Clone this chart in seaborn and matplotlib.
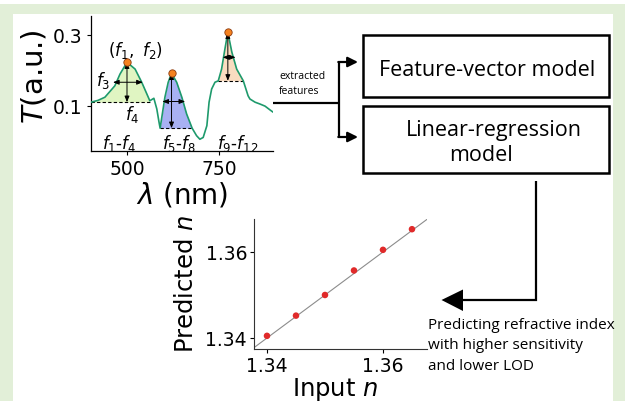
import numpy as np
import pandas as pd
import seaborn as sns
import matplotlib.pyplot as plt
from matplotlib.patches import Rectangle, Polygon

# transmission spectrum
wavelength = [402, 421, 440, 467, 481, 500, 522, 540, 554, 562, 573, 581, 587, 590, 596,
              603, 612, 621, 635, 649, 662, 677, 689, 698, 707, 717, 723, 730, 739, 748,
              757, 766, 774, 785, 798, 816, 829, 834, 848, 861, 875, 889, 897]
transmission = [0.110, 0.115, 0.124, 0.156, 0.189, 0.222, 0.203, 0.166, 0.133, 0.114, 0.121,
                0.091, 0.054, 0.037, 0.077, 0.124, 0.166, 0.191, 0.166, 0.124, 0.077, 0.037,
                0.016, 0.006, 0.011, 0.044, 0.110, 0.147, 0.166, 0.170, 0.203, 0.259, 0.306,
                0.250, 0.203, 0.170, 0.128, 0.119, 0.110, 0.105, 0.099, 0.088, 0.082]

# extracted features for the three peaks
peak_nm = [500, 621, 774]
peak_T = [0.222, 0.191, 0.306]
base_T = [0.110, 0.037, 0.170]
region_lo = [402, 590, 748]
region_hi = [562, 677, 816]
dash_hi = [567, 677, 816]
half_T = [0.166, 0.112, 0.236]
half_lo = [462, 596, 760]
half_hi = [543, 658, 795]
region_colors = ["#e0f5c2", "#a8b1f3", "#f9dcc0"]

# regression result
input_n = [1.340, 1.345, 1.350, 1.355, 1.360, 1.365]
predicted_n = [1.3405, 1.3452, 1.3500, 1.3557, 1.3605, 1.3653]

sns.set_style("white")
plt.rcParams["font.family"] = ["DejaVu Sans"]
plt.rcParams["mathtext.fontset"] = "dejavusans"
for key in ("text.color", "axes.labelcolor", "xtick.color", "ytick.color"):
    plt.rcParams[key] = "black"

W, H = 625, 402
fig = plt.figure(figsize=(6.25, 4.02), dpi=100, facecolor="#e2efd8")


def px_axes(x0, y0, x1, y1):
    return fig.add_axes([x0 / W, 1 - y1 / H, (x1 - x0) / W, (y1 - y0) / H])


# background + flow diagram, drawn in pixel coordinates
bg = px_axes(0, 0, W, H)
bg.set_xlim(0, W)
bg.set_ylim(H, 0)
bg.axis("off")
bg.add_patch(Rectangle((13, 15), 600, 400, color="white", lw=0))
bg.add_patch(Rectangle((0, 0), W, 4.5, color="white", lw=0))

lk = dict(color="k", lw=1.6, solid_capstyle="butt", solid_joinstyle="miter")
bg.plot([273, 339], [104, 104], **lk)
bg.plot([339, 339], [63, 138], **lk)
for yy in (63, 138):
    bg.annotate("", xy=(358, yy), xytext=(338.3, yy),
                arrowprops=dict(arrowstyle="-|>,head_length=0.6,head_width=0.3",
                                color="k", lw=1.6, shrinkA=0, shrinkB=0, mutation_scale=10))
bg.text(279, 79, "extracted", fontsize=7.5, family="Open Sans", va="baseline")
bg.text(279, 94, "features", fontsize=7.5, family="Open Sans", va="baseline")

bg.add_patch(Rectangle((363, 36), 246, 62, fill=False, lw=1.8, ec="k"))
bg.add_patch(Rectangle((363, 107), 246, 67, fill=False, lw=1.8, ec="k"))
bg.text(487, 75.5, "Feature-vector model", fontsize=15.5, family="Open Sans",
        ha="center", va="baseline")
bg.text(494, 136, "Linear-regression", fontsize=15.5, family="Open Sans",
        ha="center", va="baseline")
bg.text(481, 161.5, "model", fontsize=15.5, family="Open Sans", ha="center", va="baseline")

bg.plot([536, 536, 462], [182, 300.5, 300.5], **lk)
bg.add_patch(Polygon([(441.5, 301), (463, 290.5), (463, 312)], color="k", lw=0))
for i, s in enumerate(["Predicting refractive index", "with higher sensitivity",
                       "and lower LOD"]):
    bg.text(428, 329 + 20.5 * i, s, fontsize=11, family="Open Sans", va="baseline")

# spectrum inset
ax1 = px_axes(91, 17, 273, 152)
ax1.set_facecolor("none")
x = np.array(wavelength)
t = np.array(transmission)
for lo, hi, dh, b, c in zip(region_lo, region_hi, dash_hi, base_T, region_colors):
    m = (x >= lo) & (x <= hi)
    ax1.fill_between(x, b, t, where=m, color=c, lw=0)
    ax1.plot([lo, dh], [b, b], color="k", lw=0.8, ls=(0, (3, 2)))
spec = pd.DataFrame({"wavelength": wavelength, "T": transmission})
sns.lineplot(data=spec, x="wavelength", y="T", ax=ax1, color="#1e9a6c", lw=1.2, zorder=3)
arr = dict(arrowstyle="<|-|>,head_length=0.5,head_width=0.2", color="k", lw=0.7,
           shrinkA=0, shrinkB=0, mutation_scale=7)
for pn, pt, b, ht, hl, hh in zip(peak_nm, peak_T, base_T, half_T, half_lo, half_hi):
    ax1.annotate("", xy=(pn, pt), xytext=(pn, b), arrowprops=arr)
    ax1.annotate("", xy=(hl, ht), xytext=(hh, ht), arrowprops=arr)
sns.scatterplot(x=peak_nm, y=peak_T, ax=ax1, color="#f5821f", edgecolor="#8b3a0e",
                linewidth=0.6, s=28, zorder=5)

ax1.text(523, 0.259, r"$(f_1,\ f_2)$", fontsize=12, ha="center", va="center")
ax1.text(435, 0.175, r"$f_3$", fontsize=12, ha="center", va="center")
ax1.text(513, 0.077, r"$f_4$", fontsize=12, ha="center", va="center")
ax1.text(478, -0.003, r"$f_1$-$f_4$", fontsize=12, ha="center", va="center")
ax1.text(642, -0.003, r"$f_5$-$f_8$", fontsize=12, ha="center", va="center")
ax1.text(801, -0.003, r"$f_9$-$f_{12}$", fontsize=12, ha="center", va="center")

ax1.set_xlim(402.2, 896.7)
ax1.set_ylim(-0.027, 0.352)
ax1.set_xticks([500, 750])
ax1.set_yticks([0.1, 0.3])
ax1.set_yticklabels(["0.1", "0.3"])
ax1.tick_params(labelsize=13.5, length=3, width=0.8, pad=3, direction="out",
                left=True, bottom=True)
ax1.set_xlabel(r"$\lambda$ (nm)", fontsize=20, va="baseline")
ax1.set_ylabel(r"$T$(a.u.)", fontsize=21, va="center")
ax1.xaxis.set_label_coords(0.5, -0.378)
ax1.yaxis.set_label_coords(-0.315, 0.556)
sns.despine(ax=ax1)
for sp in ax1.spines.values():
    sp.set_linewidth(0.9)
    sp.set_color("k")

# regression inset
ax2 = px_axes(254, 220, 427, 350)
ax2.set_facecolor("none")
ax2.axline((input_n[0], input_n[0]), slope=1, color="#8c8c8c", lw=0.8)
reg = pd.DataFrame({"input": input_n, "pred": predicted_n})
sns.scatterplot(data=reg, x="input", y="pred", ax=ax2, color="#e02a2a", s=22,
                edgecolor="none", zorder=3)
ax2.set_xlim(1.33776, 1.36759)
ax2.set_ylim(1.33744, 1.36767)
ax2.set_xticks([1.34, 1.36])
ax2.set_xticklabels(["1.34", "1.36"])
ax2.set_yticks([1.34, 1.36])
ax2.set_yticklabels(["1.34", "1.36"])
ax2.tick_params(labelsize=13.5, length=3, width=0.8, pad=2, direction="out",
                left=True, bottom=True)
ax2.set_xlabel(r"Input $n$", fontsize=17.5, va="baseline")
ax2.set_ylabel(r"Predicted $n$", fontsize=17.5, va="center")
ax2.xaxis.set_label_coords(0.471, -0.355)
ax2.yaxis.set_label_coords(-0.393, 0.508)
sns.despine(ax=ax2)
for sp in ax2.spines.values():
    sp.set_linewidth(0.8)
    sp.set_color("#333333")

fig.savefig("out.png", dpi=100)
